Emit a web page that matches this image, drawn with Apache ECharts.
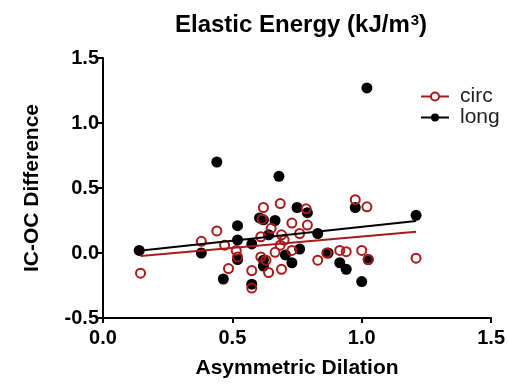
<!DOCTYPE html>
<html>
<head>
<meta charset="utf-8">
<style>
  html, body { margin: 0; padding: 0; background: #fff; }
  #chart { width: 508px; height: 384px; }
</style>
<script src="https://cdn.jsdelivr.net/npm/echarts@6/dist/echarts.min.js"></script>
</head>
<body>
<div id="chart"></div>
<script>
// Asymmetric dilation (x) vs IC-OC difference (y), circumferential and longitudinal
const circX = [0.145, 0.38, 0.44, 0.47, 0.485, 0.515, 0.52, 0.575, 0.575, 0.61, 0.61, 0.615, 0.62, 0.64, 0.65, 0.63, 0.665, 0.685, 0.69, 0.69, 0.685, 0.70, 0.73, 0.73, 0.76, 0.785, 0.79, 0.83, 0.865, 0.915, 0.94, 0.975, 1.0, 1.02, 1.025, 1.21];
const circY = [-0.155, 0.09, 0.17, 0.06, -0.12, 0.02, -0.03, -0.135, -0.27, 0.125, -0.03, 0.26, 0.35, -0.15, 0.19, -0.055, 0.005, 0.38, 0.14, -0.125, 0.06, 0.10, 0.23, 0.02, 0.15, 0.34, 0.215, -0.055, 0.0, 0.02, 0.01, 0.41, 0.02, 0.355, -0.05, -0.04];

const longX = [0.14, 0.38, 0.44, 0.465, 0.52, 0.52, 0.52, 0.575, 0.575, 0.605, 0.62, 0.62, 0.62, 0.64, 0.665, 0.68, 0.705, 0.73, 0.75, 0.76, 0.79, 0.83, 0.87, 0.915, 0.94, 0.975, 1.0, 1.02, 1.025, 1.21];
const longY = [0.02, 0.0, 0.70, -0.20, 0.21, 0.10, -0.05, 0.07, -0.24, 0.27, 0.255, -0.10, -0.055, 0.14, 0.25, 0.59, -0.015, -0.075, 0.35, 0.03, 0.31, 0.15, 0.0, -0.075, -0.125, 0.35, -0.22, 1.27, -0.05, 0.29];

// Linear fit lines: endpoints over the x range of each group
const circFitX = [0.145, 1.21];
const circFitY = [-0.023, 0.164];
const longFitX = [0.14, 1.21];
const longFitY = [0.018, 0.246];

const xTicks = [0.0, 0.5, 1.0, 1.5];
const yTicks = [-0.5, 0.0, 0.5, 1.0, 1.5];

const RED = '#a81b1b';
const BLACK = '#000000';
const FONT = '"Liberation Sans", Arial, Helvetica, sans-serif';

const zip = (xs, ys) => xs.map((x, i) => [x, ys[i]]);

const chart = echarts.init(document.getElementById('chart'), null, { renderer: 'canvas' });

const axisCommon = {
  axisLine: { show: true, onZero: false, lineStyle: { color: BLACK, width: 2 } },
  axisTick: { show: true, length: 5, inside: false, lineStyle: { color: BLACK, width: 2 } },
  splitLine: { show: false },
  axisLabel: {
    color: BLACK, fontFamily: FONT, fontWeight: 'bold', fontSize: 20,
    formatter: v => v.toFixed(1)
  },
  nameTextStyle: { color: BLACK, fontFamily: FONT, fontWeight: 'bold', fontSize: 21 }
};

chart.setOption({
  animation: false,
  backgroundColor: '#fff',
  title: {
    text: 'Elastic Energy (kJ/m{sup|3})',
    left: 170,
    top: 8,
    textStyle: {
      color: BLACK, fontFamily: FONT, fontWeight: 'bold', fontSize: 24,
      rich: {
        sup: { fontFamily: FONT, fontWeight: 'bold', fontSize: 15, verticalAlign: 'top', color: BLACK, padding: [0, 0, 10, 1] }
      }
    }
  },
  legend: {
    orient: 'vertical',
    left: 415,
    top: 81,
    itemWidth: 28,
    itemHeight: 10,
    itemGap: 0,
    data: ['circ', 'long'],
    textStyle: { color: '#222', fontFamily: FONT, fontSize: 21, padding: [0, 0, 0, 6] }
  },
  grid: { left: 103, right: 15, top: 58, bottom: 66, containLabel: false },
  xAxis: Object.assign({}, axisCommon, {
    type: 'value', min: xTicks[0], max: xTicks[xTicks.length - 1], interval: 0.5,
    name: 'Asymmetric Dilation', nameLocation: 'middle', nameGap: 40,
    axisLabel: Object.assign({}, axisCommon.axisLabel, { margin: 10 })
  }),
  yAxis: Object.assign({}, axisCommon, {
    type: 'value', min: yTicks[0], max: yTicks[yTicks.length - 1], interval: 0.5,
    name: 'IC-OC Difference', nameLocation: 'middle', nameGap: 60, nameRotate: 90,
    axisLabel: Object.assign({}, axisCommon.axisLabel, { margin: 4 })
  }),
  series: [
    {
      name: 'circ', type: 'line', data: zip(circFitX, circFitY),
      symbol: 'emptyCircle', symbolSize: 9, showSymbol: false,
      lineStyle: { color: RED, width: 2 }, itemStyle: { color: RED, borderWidth: 2 },
      z: 5, silent: true
    },
    {
      name: 'long', type: 'line', data: zip(longFitX, longFitY),
      symbol: 'circle', symbolSize: 9, showSymbol: false,
      lineStyle: { color: BLACK, width: 2 }, itemStyle: { color: BLACK },
      z: 5, silent: true
    },
    {
      name: 'long', type: 'scatter', data: zip(longX, longY),
      symbol: 'circle', symbolSize: 11,
      itemStyle: { color: BLACK, opacity: 1 }, z: 2
    },
    {
      name: 'circ', type: 'scatter', data: zip(circX, circY),
      symbol: 'circle', symbolSize: 9,
      itemStyle: { color: 'rgba(0,0,0,0)', borderColor: RED, borderWidth: 2, opacity: 1 }, z: 3
    }
  ]
});
</script>
</body>
</html>
